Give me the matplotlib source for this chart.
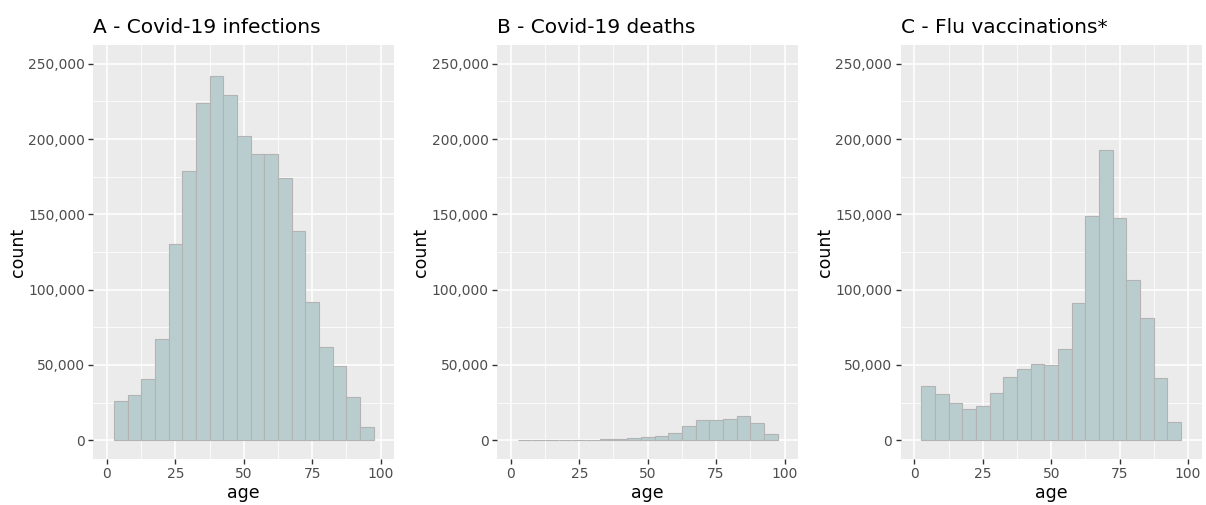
import matplotlib.pyplot as plt
import numpy as np
from matplotlib.ticker import FuncFormatter, MultipleLocator

plt.rcParams["font.family"] = ["DejaVu Sans"]

C_PANEL = "#EBEBEB"
C_FILL = "#B9CDCF"
C_EDGE = "#B3B3B3"
C_TICK = "#4D4D4D"

# age bins of width 5 (left edges 2.5 ... 92.5)
bin_left = [2.5, 7.5, 12.5, 17.5, 22.5, 27.5, 32.5, 37.5, 42.5, 47.5,
            52.5, 57.5, 62.5, 67.5, 72.5, 77.5, 82.5, 87.5, 92.5]

infections = [26000, 30000, 40800, 67000, 130000, 179000, 224000, 241600, 229000, 202000,
              190000, 190000, 174000, 139000, 92000, 61700, 49500, 28600, 8700]
deaths = [100, 60, 100, 150, 250, 400, 600, 900, 1300, 1800,
          2900, 5100, 9400, 13400, 13400, 14200, 15900, 11500, 4200]
flu_vacc = [36000, 30400, 25000, 20900, 22400, 31300, 42000, 47200, 50600, 50100,
            60600, 91000, 148600, 192500, 147500, 106500, 81200, 41000, 12000]

titles = ["A - Covid-19 infections", "B - Covid-19 deaths", "C - Flu vaccinations*"]
series = [infections, deaths, flu_vacc]

fig = plt.figure(figsize=(12.06, 5.05), dpi=100)
lefts = [93.3, 497.2, 900.7]
W, H = 1206, 505

for left, title, vals in zip(lefts, titles, series):
    ax = fig.add_axes([left / W, 46 / H, 301 / W, 414 / H])
    ax.set_facecolor(C_PANEL)
    ax.bar(bin_left, vals, width=5, align="edge", color=C_FILL,
           edgecolor=C_EDGE, linewidth=0.8, zorder=3)
    ax.set_xlim(-5, 105)
    ax.set_ylim(-12500, 262500)
    ax.xaxis.set_major_locator(MultipleLocator(25))
    ax.xaxis.set_minor_locator(MultipleLocator(12.5))
    ax.yaxis.set_major_locator(MultipleLocator(50000))
    ax.yaxis.set_minor_locator(MultipleLocator(25000))
    ax.yaxis.set_major_formatter(FuncFormatter(lambda v, p: f"{int(v):,}"))
    ax.grid(which="major", color="white", linewidth=1.1, zorder=0)
    ax.grid(which="minor", color="white", linewidth=0.55, zorder=0)
    ax.set_axisbelow(True)
    for s in ax.spines.values():
        s.set_visible(False)
    ax.tick_params(which="major", length=3.5, width=1, color="#333333",
                   labelcolor=C_TICK, labelsize=10, pad=2.5)
    ax.tick_params(which="minor", length=0)
    ax.set_xlabel("age", fontsize=12.5, labelpad=2)
    ax.set_ylabel("count", fontsize=12.5, labelpad=1)
    ax.set_title(title, loc="left", fontsize=14.5, pad=9)

fig.savefig("out.png", dpi=100)
